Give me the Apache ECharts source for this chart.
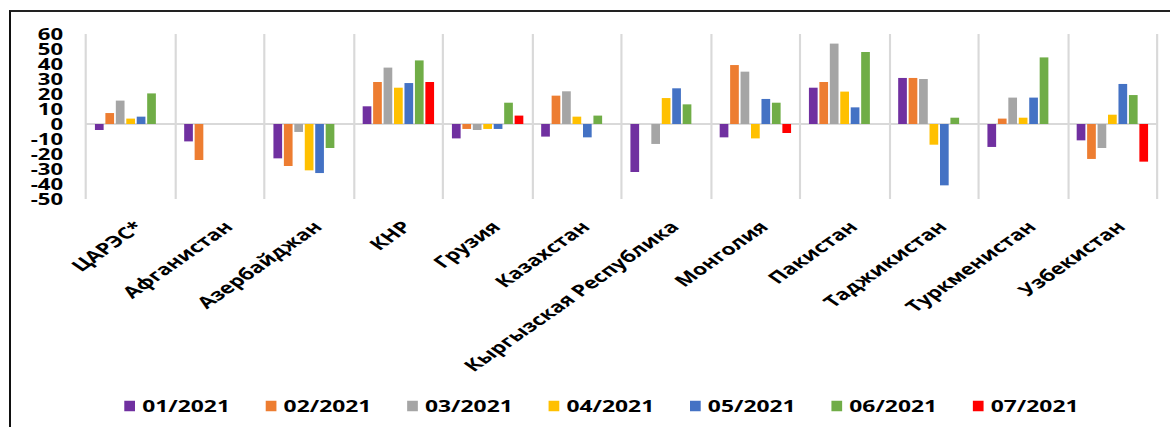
<!DOCTYPE html>
<html>
<head>
<meta charset="utf-8">
<script src="https://cdn.jsdelivr.net/npm/echarts@6/dist/echarts.min.js"></script>
<style>
  html, body { margin: 0; padding: 0; background: #fff; width: 1170px; height: 427px; overflow: hidden; }
  #frame { position: absolute; left: 9px; top: 10px; width: 1200px; height: 500px;
           border-left: 2px solid #111; border-top: 2px solid #222; box-sizing: border-box; }
  #chart { position: absolute; left: 0; top: 0; width: 819px; height: 427px;
           transform: scaleX(1.428571); transform-origin: 0 0; }
</style>
</head>
<body>
<div id="frame"></div>
<div id="chart"></div>
<script>
const categories = ['ЦАРЭС*', 'Афганистан', 'Азербайджан', 'КНР', 'Грузия', 'Казахстан',
  'Кыргызская Республика', 'Монголия', 'Пакистан', 'Таджикистан', 'Туркменистан', 'Узбекистан'];
const seriesNames = ['01/2021', '02/2021', '03/2021', '04/2021', '05/2021', '06/2021', '07/2021'];
const m01 = [-4, -11.6, -22.9, 11.8, -9.6, -8.4, -32, -8.9, 24.2, 30.7, -15.3, -10.9];
const m02 = [7.3, -24, -28, 28, -3.3, 18.9, null, 39.3, 28, 30.7, 3.6, -23.3];
const m03 = [15.6, null, -5.3, 37.6, -4, 21.8, -13.3, 34.9, 53.6, 30, 17.6, -16];
const m04 = [3.6, null, -30.9, 24.2, -3.3, 4.9, 17.3, -9.6, 21.6, -13.8, 4.2, 6.2];
const m05 = [4.9, null, -32.7, 27.3, -3.3, -8.9, 23.8, 16.7, 11.1, -40.9, 17.6, 26.7];
const m06 = [20.4, null, -16, 42.4, 14.2, 5.6, 13.1, 14.2, 48, 4.2, 44.4, 19.3];
const m07 = [null, null, null, 28, 5.6, null, null, -6, null, null, null, -25.1];
const seriesValues = [m01, m02, m03, m04, m05, m06, m07];
const yTickLabels = ['-50', '-40', '-30', '-20', '-10', '0', '10', '20', '30', '40', '50', '60'];
const colors = ['#7030A0', '#ED7D31', '#A5A5A5', '#FFC000', '#4472C4', '#70AD47', '#FF0000'];
const yMin = -50, yMax = 60, yStep = 10;

const chart = echarts.init(document.getElementById('chart'), null, { renderer: 'svg', width: 819, height: 427 });
const series = seriesNames.map((name, i) => {
  const s = {
    name: name,
    type: 'bar',
    yAxisIndex: 0,
    data: seriesValues[i],
    itemStyle: { color: colors[i] },
    barGap: '20%',
    barCategoryGap: '20%',
    animation: false
  };
  if (i === 0) {
    s.markLine = {
      silent: true,
      symbol: ['none', 'none'],
      label: { show: false },
      lineStyle: { color: '#D9D9D9', width: 2, type: 'solid' },
      data: [{ yAxis: 0 }],
      z: 1
    };
  }
  return s;
});

chart.setOption({
  animation: false,
  color: colors,
  grid: { left: 60.2, right: 9.1, top: 34, bottom: 228, containLabel: false },
  legend: {
    data: seriesNames,
    left: 82,
    top: 393,
    icon: 'rect',
    itemWidth: 7.5,
    itemHeight: 10.5,
    itemGap: 25,
    textStyle: { fontFamily: 'Open Sans', fontWeight: 'bold', fontSize: 16, color: '#000' }
  },
  xAxis: {
    type: 'category',
    data: categories,
    boundaryGap: true,
    axisLine: { show: false },
    axisTick: { show: false },
    splitLine: { show: true, interval: 0, lineStyle: { color: '#D9D9D9', width: 1.5 } },
    axisLabel: {
      interval: 0,
      rotate: 45,
      margin: 19,
      verticalAlign: 'top',
      fontFamily: 'Open Sans',
      fontWeight: 'bold',
      fontSize: 16,
      color: '#000'
    }
  },
  yAxis: [
    {
      type: 'value',
      min: yMin,
      max: yMax,
      interval: yStep,
      axisLine: { show: false },
      axisTick: { show: false },
      splitLine: { show: false },
      axisLabel: { show: false }
    },
    {
      type: 'category',
      position: 'left',
      data: yTickLabels,
      boundaryGap: false,
      axisLine: { show: false },
      axisTick: { show: false },
      splitLine: { show: false },
      axisLabel: {
        interval: 0,
        margin: 16,
        fontFamily: 'Open Sans',
        fontWeight: 'bold',
        fontSize: 15.5,
        lineHeight: 14,
        color: '#000'
      }
    }
  ],
  series: series
});
</script>
</body>
</html>
